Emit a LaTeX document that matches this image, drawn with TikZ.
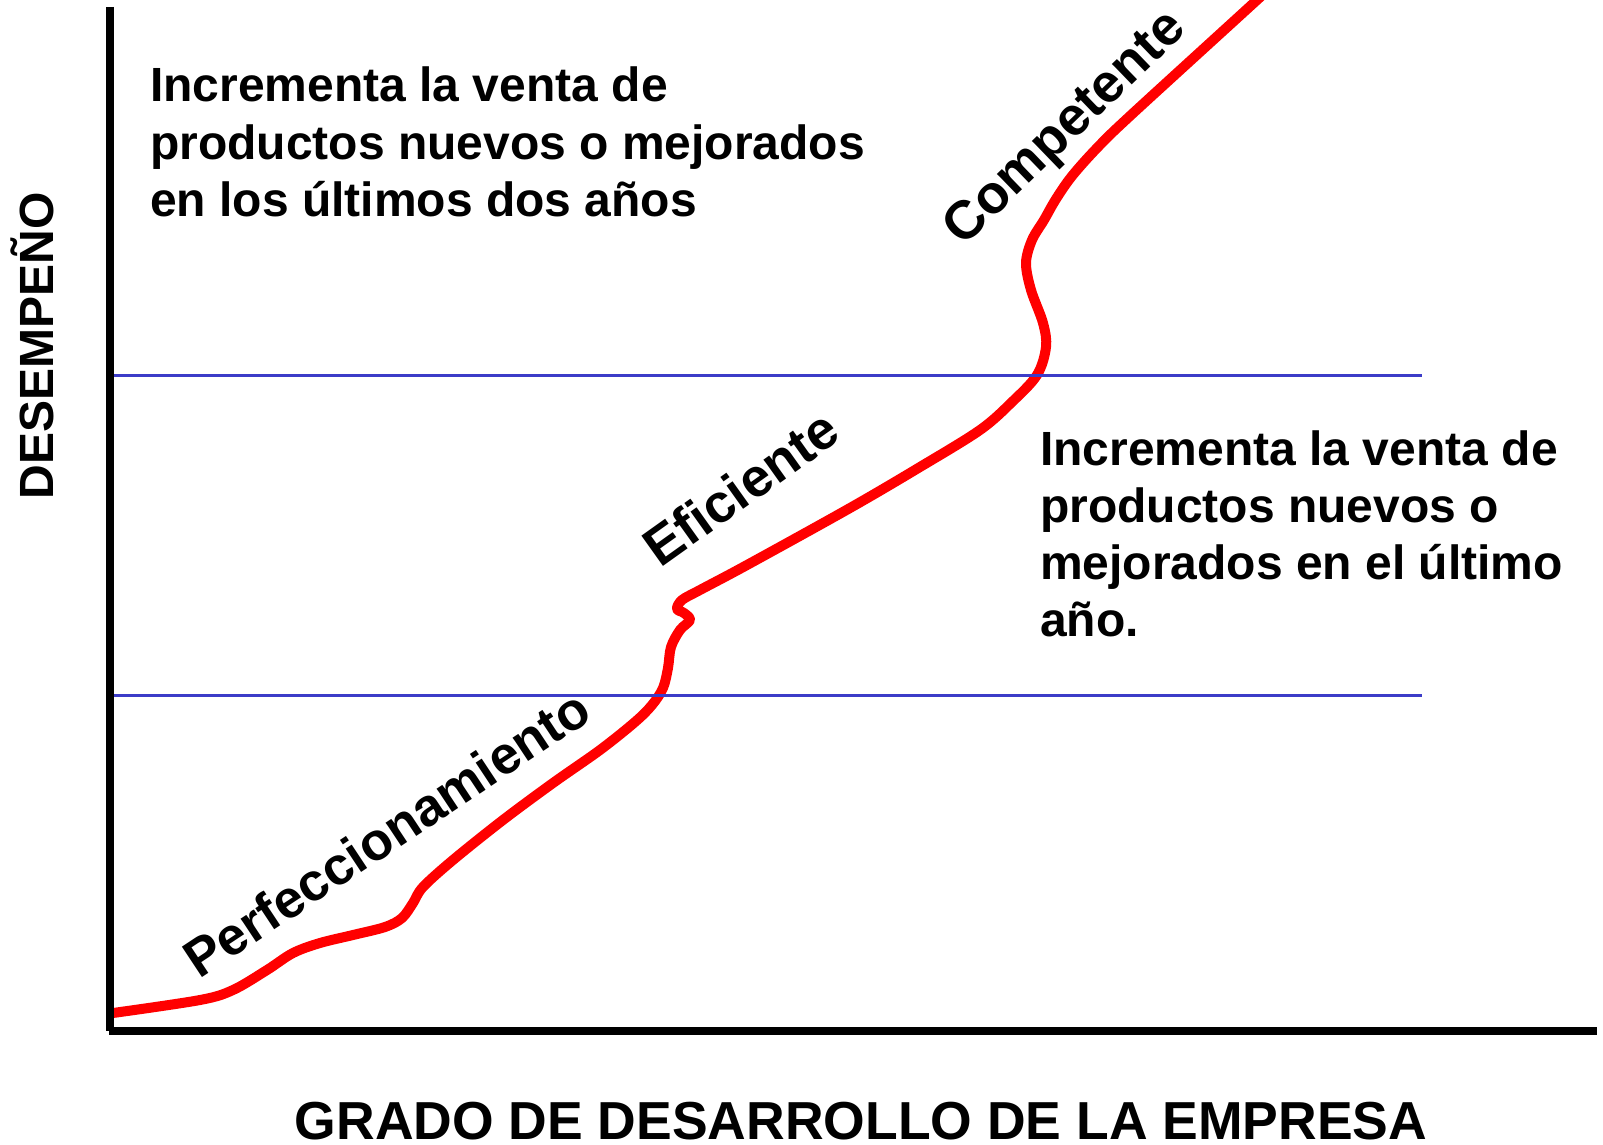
\documentclass[tikz,border=0pt]{standalone}
\usepackage{fontspec}
\setmainfont{Liberation Sans}
\definecolor{levelblue}{RGB}{60,60,200}
\tikzset{
  txt/.style={font=\fontsize{48}{57.3}\selectfont\bfseries, inner sep=0pt, anchor=base west},
  lbl/.style={font=\fontsize{54}{60}\selectfont\bfseries, inner sep=0pt, anchor=base west},
  axistitle/.style={font=\fontsize{48}{57}\selectfont\bfseries, inner sep=0pt, anchor=base},
  axisline/.style={line width=7.5pt, black},
  levelline/.style={line width=3pt, levelblue},
  curve/.style={line width=10pt, red, line cap=round, line join=round}
}
\begin{document}
\begin{tikzpicture}[x=1pt,y=-1pt]
\useasboundingbox (0,0) rectangle (1603,1145);
% axes coordinates
\coordinate (ytop) at (110,7);
\coordinate (origin) at (110,1031);
\coordinate (xend) at (1597,1031);
\coordinate (l1a) at (113,375);
\coordinate (l1b) at (1422,375);
\coordinate (l2a) at (113,695);
\coordinate (l2b) at (1422,695);
% curve
\begin{scope}
\clip (0,0) rectangle (1603,1145);
\draw[curve] plot[smooth, tension=0.55] coordinates {
(113,1013) (200,1000) (233,990) (267,970) (293,953) (320,943) (353,935)
(385,927) (402,918) (413,903) (423,887) (453,860) (503,820) (553,783)
(600,750) (635,722) (652,705) (663,688) (668,668) (671,647) (680,630)
(690,620) (684,613) (677,609) (682,600) (700,590) (747,565) (850,508)
(920,467) (980,430) (1012,402) (1037,375) (1046,347) (1043,323) (1031,290)
(1026,263) (1032,240) (1044,220) (1056,199) (1072,176) (1097,148) (1130,116)
(1257,0) (1275,-17)};
\end{scope}
% level lines
\draw[levelline] (l1a) -- (l1b);
\draw[levelline] (l2a) -- (l2b);
% axes
\draw[axisline] (ytop) -- (origin);
\draw[axisline, line width=8pt] ([xshift=-1pt]origin) -- (xend);
% texts
\node[txt] (t1) at (150,102) {\begin{tabular}[t]{@{}l@{}}Incrementa la venta de\\productos nuevos o mejorados\\en los últimos dos años\end{tabular}};
\node[txt] (t2) at (1040,465) {\begin{tabular}[t]{@{}l@{}}Incrementa la venta de\\productos nuevos o\\mejorados en el último\\año.\end{tabular}};
\node[lbl, rotate=33.5, font=\fontsize{53}{60}\selectfont\bfseries] (perf) at (199,980) {Perfeccionamiento};
\node[lbl, rotate=35.5] (efic) at (660,569) {Eficiente};
\node[lbl, rotate=44] (comp) at (963,248) {Competente};
\node[axistitle, rotate=90] (ylab) at (53,346) {DESEMPEÑO};
\node[axistitle, font=\fontsize{53.5}{60}\selectfont\bfseries] (xlab) at (861,1139) {GRADO DE DESARROLLO DE LA EMPRESA};
\end{tikzpicture}
\end{document}
